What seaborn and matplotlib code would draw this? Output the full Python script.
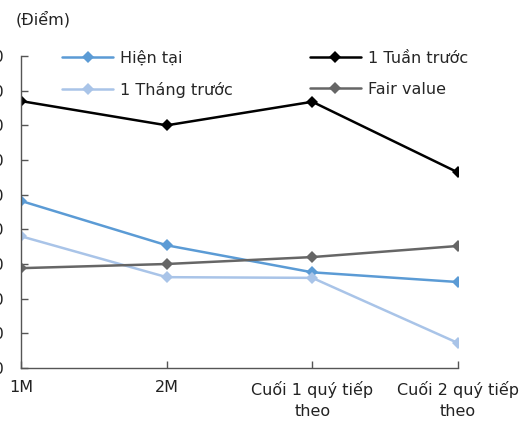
import matplotlib
matplotlib.use("Agg")
import matplotlib.pyplot as plt
import seaborn as sns
import pandas as pd

# Data (points, VN-Index scale)
ky_han = ["1M", "2M", "Cuối 1 quý tiếp\ntheo", "Cuối 2 quý tiếp\ntheo"]
hien_tai = [1341, 1277, 1238, 1224]
tuan_truoc = [1485, 1450, 1484, 1382]
thang_truoc = [1290, 1231, 1230, 1136]
fair_value = [1244, 1250, 1260, 1276]

series_names = ["Hiện tại", "1 Tuần trước", "1 Tháng trước", "Fair value"]
colors = ["#5B9BD5", "#000000", "#A9C4E8", "#666666"]

df = pd.concat([
    pd.DataFrame({"ky": ky_han, "diem": vals, "series": name})
    for name, vals in zip(series_names, [hien_tai, tuan_truoc, thang_truoc, fair_value])
])

sns.set_style("white")
plt.rcParams["font.family"] = ["DejaVu Sans"]

fig = plt.figure(figsize=(5.31, 4.28), dpi=100)
ax = fig.add_axes([21 / 531, 60 / 428, 437 / 531, 312 / 428])

sns.lineplot(data=df, x="ky", y="diem", hue="series", style="series",
             palette=colors, markers=["D"] * 4, dashes=False, sort=False,
             linewidth=1.8, markersize=6, markeredgewidth=0, ax=ax)

ax.set_xlim(0, 3)
ax.set_ylim(1100, 1550)
ax.set_yticks(range(1100, 1551, 50))
ax.set_yticklabels([f"{v:,}" for v in range(1100, 1551, 50)])
ax.set_xlabel("")
ax.set_ylabel("")
ax.tick_params(axis="both", direction="in", length=5, width=1, color="#555555",
               labelsize=11.5, labelcolor="#222222", bottom=True, left=True)
ax.tick_params(axis="y", pad=12)
ax.tick_params(axis="x", pad=9)
for lbl in ax.get_xticklabels():
    lbl.set_ha("center")
    lbl.set_linespacing(1.5)

for side in ["top", "right"]:
    ax.spines[side].set_visible(False)
for side in ["left", "bottom"]:
    ax.spines[side].set_color("#555555")
    ax.spines[side].set_linewidth(1)

fig.text(16 / 531, 1 - 19 / 428, "(Điểm)", fontsize=11.5, color="#222222", va="center")

# legend rows: Hiện tại / 1 Tuần trước, then 1 Tháng trước / Fair value
handles, labels = ax.get_legend_handles_labels()
order = [0, 2, 1, 3]
ax.legend([handles[i] for i in order], [labels[i] for i in order], ncol=2,
          loc="upper left", bbox_to_anchor=(0.061, 1.064),
          frameon=False, fontsize=11.5, handlelength=3.2, handletextpad=0.45,
          columnspacing=4.8, labelspacing=1.0)

fig.savefig("out.png", dpi=100)
